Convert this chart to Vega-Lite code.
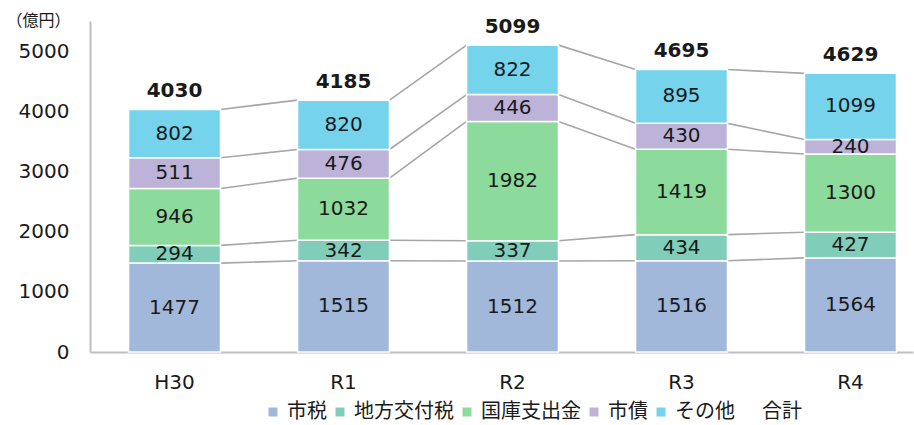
{
  "$schema": "https://vega.github.io/schema/vega-lite/v6.json",
  "width": 823,
  "height": 331,
  "autosize": "none",
  "padding": {"left": 90, "top": 21, "right": 1, "bottom": 73},
  "background": "white",
  "config": {"view": {"stroke": null}},
  "datasets": {
    "parts": [
      {"year": "H30", "cat": "市税", "value": 1477},
      {"year": "H30", "cat": "地方交付税", "value": 294},
      {"year": "H30", "cat": "国庫支出金", "value": 946},
      {"year": "H30", "cat": "市債", "value": 511},
      {"year": "H30", "cat": "その他", "value": 802},
      {"year": "R1", "cat": "市税", "value": 1515},
      {"year": "R1", "cat": "地方交付税", "value": 342},
      {"year": "R1", "cat": "国庫支出金", "value": 1032},
      {"year": "R1", "cat": "市債", "value": 476},
      {"year": "R1", "cat": "その他", "value": 820},
      {"year": "R2", "cat": "市税", "value": 1512},
      {"year": "R2", "cat": "地方交付税", "value": 337},
      {"year": "R2", "cat": "国庫支出金", "value": 1982},
      {"year": "R2", "cat": "市債", "value": 446},
      {"year": "R2", "cat": "その他", "value": 822},
      {"year": "R3", "cat": "市税", "value": 1516},
      {"year": "R3", "cat": "地方交付税", "value": 434},
      {"year": "R3", "cat": "国庫支出金", "value": 1419},
      {"year": "R3", "cat": "市債", "value": 430},
      {"year": "R3", "cat": "その他", "value": 895},
      {"year": "R4", "cat": "市税", "value": 1564},
      {"year": "R4", "cat": "地方交付税", "value": 427},
      {"year": "R4", "cat": "国庫支出金", "value": 1300},
      {"year": "R4", "cat": "市債", "value": 240},
      {"year": "R4", "cat": "その他", "value": 1099}
    ],
    "totals": [
      {"year": "H30", "total": 4030},
      {"year": "R1", "total": 4185},
      {"year": "R2", "total": 5099},
      {"year": "R3", "total": 4695},
      {"year": "R4", "total": 4629}
    ],
    "links": [
      {"from": "H30", "to": "R1", "v1": 1477, "v2": 1515},
      {"from": "H30", "to": "R1", "v1": 1771, "v2": 1857},
      {"from": "H30", "to": "R1", "v1": 2717, "v2": 2889},
      {"from": "H30", "to": "R1", "v1": 3228, "v2": 3365},
      {"from": "H30", "to": "R1", "v1": 4030, "v2": 4185},
      {"from": "R1", "to": "R2", "v1": 1515, "v2": 1512},
      {"from": "R1", "to": "R2", "v1": 1857, "v2": 1849},
      {"from": "R1", "to": "R2", "v1": 2889, "v2": 3831},
      {"from": "R1", "to": "R2", "v1": 3365, "v2": 4277},
      {"from": "R1", "to": "R2", "v1": 4185, "v2": 5099},
      {"from": "R2", "to": "R3", "v1": 1512, "v2": 1516},
      {"from": "R2", "to": "R3", "v1": 1849, "v2": 1950},
      {"from": "R2", "to": "R3", "v1": 3831, "v2": 3369},
      {"from": "R2", "to": "R3", "v1": 4277, "v2": 3799},
      {"from": "R2", "to": "R3", "v1": 5099, "v2": 4694},
      {"from": "R3", "to": "R4", "v1": 1516, "v2": 1564},
      {"from": "R3", "to": "R4", "v1": 1950, "v2": 1991},
      {"from": "R3", "to": "R4", "v1": 3369, "v2": 3291},
      {"from": "R3", "to": "R4", "v1": 3799, "v2": 3531},
      {"from": "R3", "to": "R4", "v1": 4694, "v2": 4630}
    ]
  },
  "layer": [
    {
      "data": {"name": "links"},
      "mark": {"type": "rule", "color": "#a6a6a6", "strokeWidth": 1.6},
      "encoding": {
        "x": {"field": "from", "type": "nominal", "bandPosition": 1},
        "x2": {"field": "to", "bandPosition": 0},
        "y": {"field": "v1", "type": "quantitative"},
        "y2": {"field": "v2"}
      }
    },
    {
      "data": {"name": "parts"},
      "transform": [
        {"calculate": "indexof(['市税','地方交付税','国庫支出金','市債','その他'], datum.cat)", "as": "k"},
        {"stack": "value", "groupby": ["year"], "sort": [{"field": "k", "order": "ascending"}], "as": ["y0", "y1"]},
        {"calculate": "(datum.y0 + datum.y1) / 2", "as": "ymid"}
      ],
      "layer": [
        {
          "mark": {"type": "bar", "stroke": "white", "strokeWidth": 1.5},
          "encoding": {
            "x": {"field": "year", "type": "nominal"},
            "y": {"field": "y0", "type": "quantitative"},
            "y2": {"field": "y1"},
            "color": {
              "field": "cat",
              "type": "nominal",
              "scale": {
                "domain": ["市税", "地方交付税", "国庫支出金", "市債", "その他", "合計"],
                "range": ["#a1b8db", "#80ceb9", "#8cda9c", "#bdb2d7", "#75d3ec", "#ffffff"]
              },
              "legend": {
                "orient": "none",
                "direction": "horizontal",
                "legendX": 173,
                "legendY": 381,
                "title": null,
                "symbolType": "square",
                "symbolSize": 81,
                "symbolStrokeWidth": 0,
                "labelFont": "Noto Sans CJK JP",
                "labelFontSize": 20,
                "labelColor": "#1a1a1a",
                "labelOffset": 4,
                "columnPadding": 3
              }
            }
          }
        },
        {
          "mark": {"type": "text", "font": "DejaVu Sans", "fontSize": 20, "color": "#1a1a1a", "baseline": "middle"},
          "encoding": {
            "x": {"field": "year", "type": "nominal"},
            "y": {"field": "ymid", "type": "quantitative"},
            "text": {"field": "value", "type": "quantitative", "format": "d"}
          }
        }
      ]
    },
    {
      "data": {"name": "totals"},
      "mark": {"type": "text", "font": "DejaVu Sans", "fontSize": 20, "fontWeight": "bold", "color": "#1a1a1a", "baseline": "alphabetic", "dy": -12},
      "encoding": {
        "x": {"field": "year", "type": "nominal"},
        "y": {"field": "total", "type": "quantitative"},
        "text": {"field": "total", "type": "quantitative", "format": "d"}
      }
    }
  ],
  "encoding": {
    "x": {
      "field": "year",
      "type": "nominal",
      "sort": ["H30", "R1", "R2", "R3", "R4"],
      "scale": {"domain": ["H30", "R1", "R2", "R3", "R4"], "paddingInner": 0.456, "paddingOuter": 0.163, "align": 0.7},
      "axis": {"title": null, "labelAngle": 0, "ticks": false, "domainColor": "#bfbfbf", "domainWidth": 2, "labelFont": "DejaVu Sans", "labelFontSize": 20, "labelColor": "#1a1a1a", "labelPadding": 20}
    },
    "y": {
      "type": "quantitative",
      "scale": {"domain": [0, 5500], "nice": false},
      "axis": {"values": [0, 1000, 2000, 3000, 4000, 5000], "format": "d", "grid": false, "ticks": false, "domainColor": "#bfbfbf", "domainWidth": 2, "labelFont": "DejaVu Sans", "labelFontSize": 20, "labelColor": "#1a1a1a", "labelPadding": 21, "title": "（億円）", "titleAngle": 0, "titleAlign": "left", "titleBaseline": "middle", "titleX": -84, "titleY": -1, "titleFont": "Noto Sans CJK JP", "titleFontSize": 16, "titleFontWeight": "normal", "titleColor": "#1a1a1a"}
    }
  }
}
